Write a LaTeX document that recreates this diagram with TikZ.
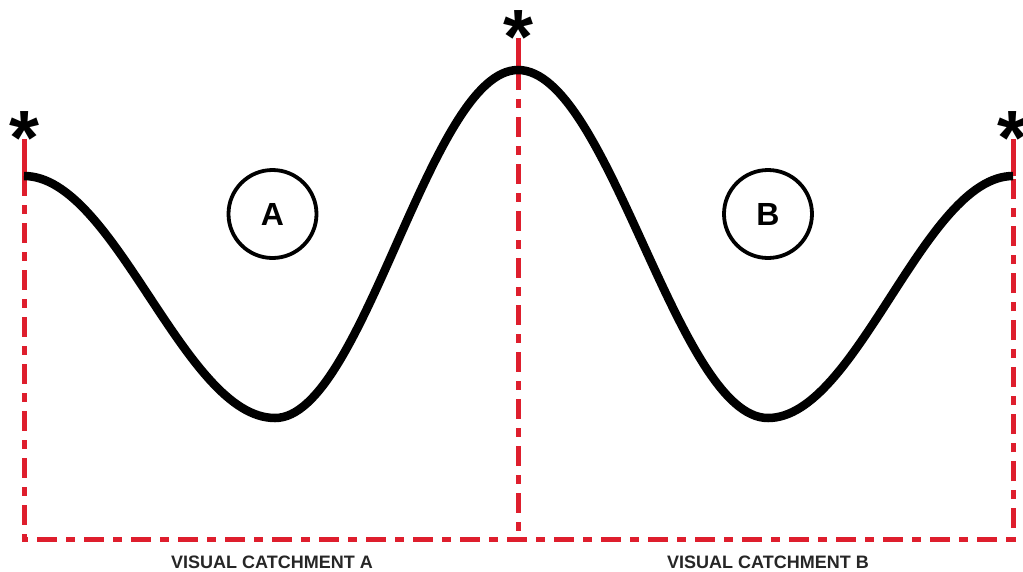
\documentclass[tikz,border=0pt]{standalone}
\usepackage{fontspec}
\setmainfont{Liberation Sans}
\definecolor{catred}{RGB}{222,30,45}
\tikzset{
  redsolid/.style={draw=catred, line width=5pt},
  reddash/.style={draw=catred, line width=5pt, dash pattern=on 20pt off 9pt on 9pt off 9pt},
  ground/.style={draw=black, line width=8.5pt},
  zone/.style={circle, draw=black, line width=3.8pt, minimum size=88pt, inner sep=0pt, font=\fontsize{32}{32}\selectfont\bfseries},
  star/.style={anchor=base, inner sep=0pt, font=\fontsize{77}{77}\selectfont\bfseries},
  caption/.style={font=\fontsize{18}{18}\selectfont\bfseries, text=black!85}
}
\begin{document}
\begin{tikzpicture}[x=1pt,y=-1pt]
\useasboundingbox (0,0) rectangle (1023,571);
\fill[white] (0,0) rectangle (1023,571);
% coordinates
\coordinate (L) at (24,176);
\coordinate (M) at (518,70);
\coordinate (R) at (1013,176);
\coordinate (LB) at (24,539);
\coordinate (MB) at (518,539);
\coordinate (RB) at (1013,539);
\coordinate (Ltop) at (24,139);
\coordinate (Mtop) at (518,38);
\coordinate (Rtop) at (1013,139);
% red lines
\draw[reddash] (L) -- (LB) -- (RB) -- (R);
\draw[reddash] (M) -- (MB);
\draw[redsolid] (Ltop) -- (L);
\draw[redsolid] (Mtop) -- (M);
\draw[redsolid] (Rtop) -- (R);
% terrain curve (half-cosine segments)
\draw[ground] (L)
  .. controls (115.2,176) and (183.8,418) .. (275,418)
  .. controls (363.3,418) and (429.7,70) .. (M)
  .. controls (608.9,70) and (677.1,418) .. (768,418)
  .. controls (857.0,418) and (924.0,176) .. (R);
% zones
\node[zone] (A) at (272.5,214) {A};
\node[zone] (B) at (768,214) {B};
% asterisks
\node[star] (sL) at (24,164) {*};
\node[star] (sM) at (518,63) {*};
\node[star] (sR) at (1012,164) {*};
% captions
\node[caption] (cA) at (272,562) {VISUAL CATCHMENT A};
\node[caption] (cB) at (768,562) {VISUAL CATCHMENT B};
\end{tikzpicture}
\end{document}
